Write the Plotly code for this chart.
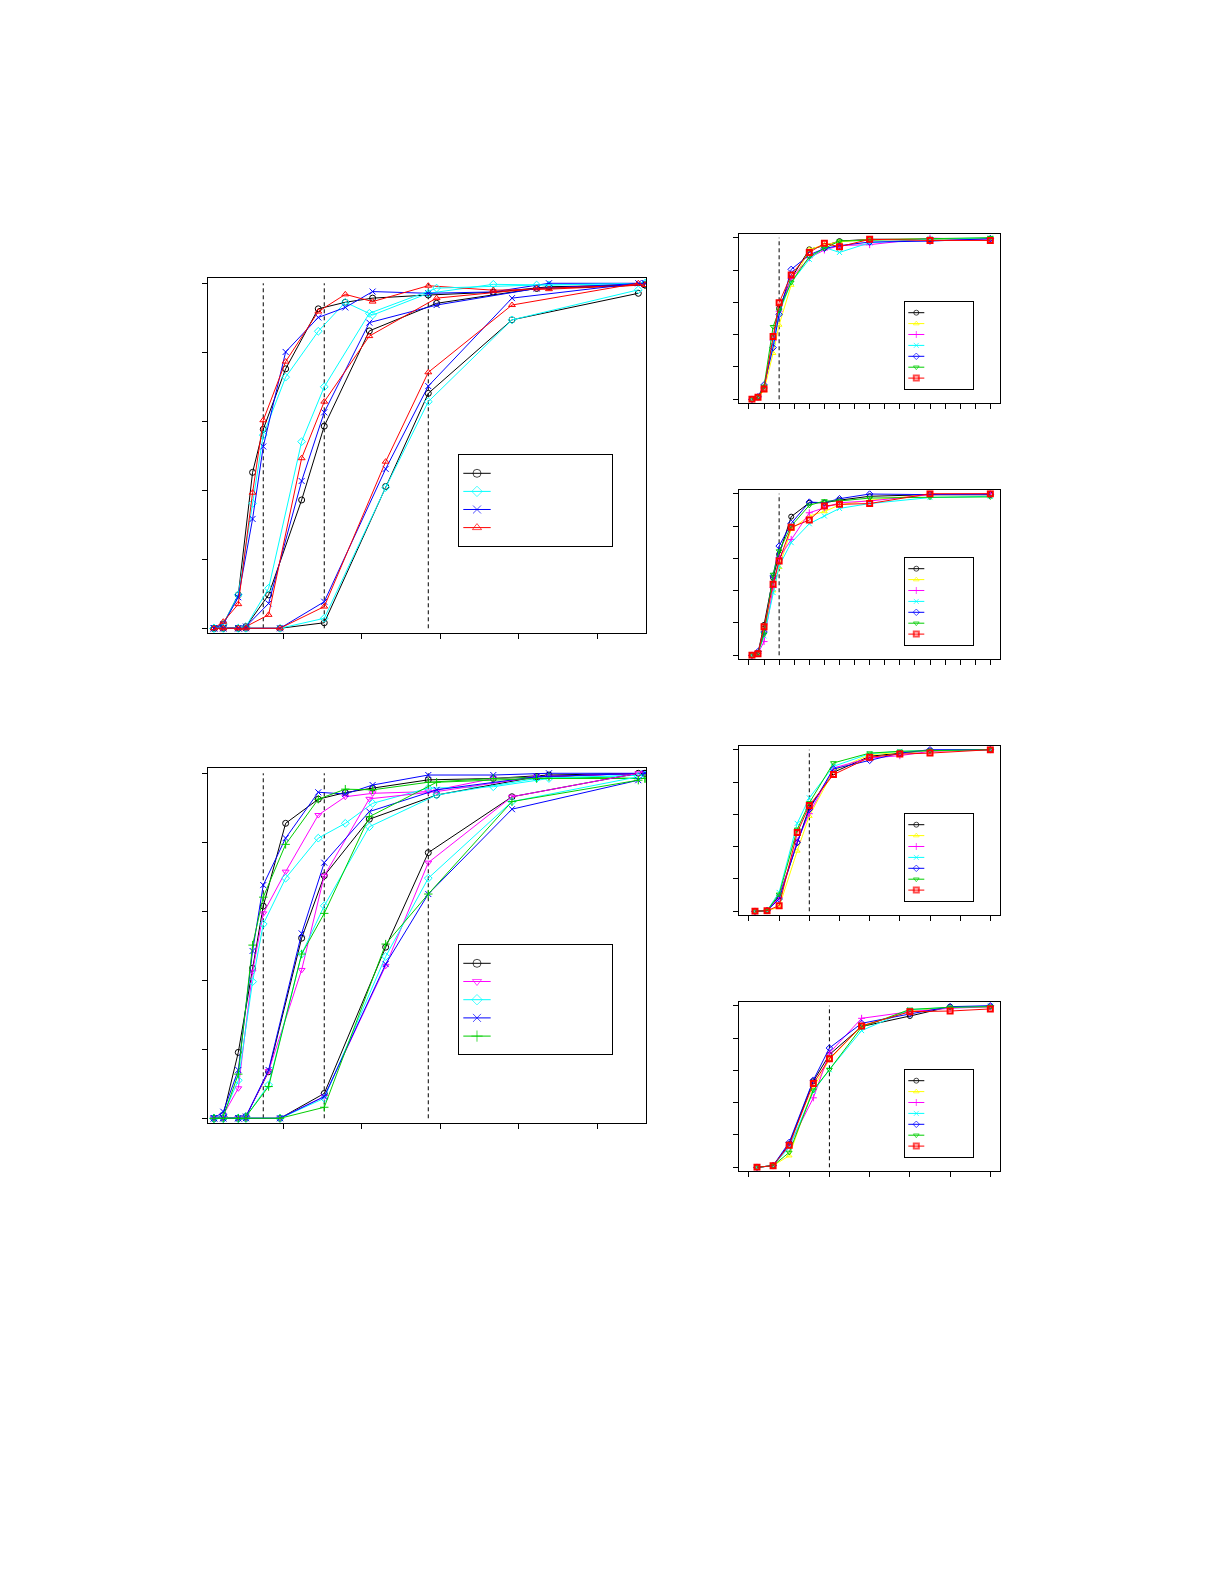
import plotly.graph_objects as go

# page is 1225x1585; the html body has an 8px margin, so the figure is slightly smaller
PAGE_OFF = 8
W, H = 1225 - 2 * PAGE_OFF, 1585 - 2 * PAGE_OFF

# ---------------- data: left panels ----------------
xA = [1.17, 2.36, 4.27, 6.09, 7.45, 10.30, 14.46, 17.90, 21.38, 28.47, 36.75, 43.84, 56.07]
xB = [1.17, 2.36, 4.27, 5.24, 8.13, 12.34, 15.22, 20.96, 29.53, 42.27, 56.07]
xC = [1.17, 2.36, 4.27, 5.24, 9.58, 15.22, 23.04, 28.47, 39.13, 55.22]
left_thresholds = [7.45, 15.22, 28.47]
left_xticks = [10, 20, 30, 40, 50]
y_ticks = [0, 0.2, 0.4, 0.6, 0.8, 1.0]

# top-left panel: series 1..4, each with families A, B, C
tl_A = [
    [0, 0.012, 0.097, 0.452, 0.577, 0.752, 0.926, 0.945, 0.957, 0.966, 0.974, 0.990, 0.995],
    [0, 0.012, 0.097, 0.362, 0.560, 0.728, 0.861, 0.945, 0.908, 0.971, 0.997, 0.995, 1.000],
    [0, 0.012, 0.090, 0.317, 0.527, 0.801, 0.901, 0.930, 0.976, 0.971, 0.975, 1.000, 1.000],
    [0, 0.019, 0.070, 0.393, 0.603, 0.773, 0.918, 0.968, 0.947, 0.993, 0.980, 0.983, 0.995],
]
tl_B = [
    [0, 0, 0, 0.005, 0.097, 0.372, 0.586, 0.862, 0.942, 0.985, 0.995],
    [0, 0, 0, 0.005, 0.116, 0.541, 0.700, 0.913, 0.986, 0.995, 1.000],
    [0, 0, 0, 0.005, 0.072, 0.427, 0.626, 0.886, 0.937, 0.985, 1.000],
    [0, 0, 0, 0.005, 0.039, 0.493, 0.657, 0.847, 0.957, 0.985, 0.995],
]
tl_C = [
    [0, 0, 0, 0, 0, 0.016, 0.411, 0.681, 0.894, 0.971],
    [0, 0, 0, 0, 0, 0.029, 0.408, 0.657, 0.894, 0.981],
    [0, 0, 0, 0, 0, 0.077, 0.462, 0.702, 0.957, 1.000],
    [0, 0, 0, 0, 0, 0.063, 0.483, 0.742, 0.937, 1.000],
]

# bottom-left panel: series 1..5
bl_A = [
    [0, 0.010, 0.191, 0.435, 0.615, 0.855, 0.925, 0.944, 0.957, 0.981, 0.985, 0.995, 1.000],
    [0, 0.010, 0.087, 0.425, 0.594, 0.715, 0.879, 0.932, 0.942, 0.947, 0.985, 0.990, 1.000],
    [0, 0.010, 0.110, 0.396, 0.563, 0.696, 0.812, 0.855, 0.913, 0.957, 0.961, 0.985, 0.995],
    [0, 0.019, 0.140, 0.485, 0.676, 0.812, 0.945, 0.940, 0.966, 0.995, 0.995, 1.000, 1.000],
    [0, 0.005, 0.128, 0.502, 0.641, 0.794, 0.925, 0.954, 0.952, 0.974, 0.985, 0.990, 0.985],
]
bl_B = [
    [0, 0, 0, 0.005, 0.135, 0.522, 0.703, 0.867, 0.937, 0.990, 1.000],
    [0, 0, 0, 0.005, 0.137, 0.430, 0.703, 0.926, 0.947, 0.990, 1.000],
    [0, 0, 0, 0.005, 0.097, 0.476, 0.616, 0.845, 0.937, 0.985, 0.995],
    [0, 0, 0, 0.005, 0.140, 0.536, 0.741, 0.889, 0.952, 0.990, 1.000],
    [0, 0, 0, 0.005, 0.092, 0.476, 0.594, 0.874, 0.974, 0.985, 0.985],
]
bl_C = [
    [0, 0, 0, 0, 0, 0.072, 0.496, 0.770, 0.932, 1.000],
    [0, 0, 0, 0, 0, 0.063, 0.442, 0.741, 0.932, 1.000],
    [0, 0, 0, 0, 0, 0.058, 0.469, 0.696, 0.918, 0.990],
    [0, 0, 0, 0, 0, 0.063, 0.447, 0.650, 0.896, 0.980],
    [0, 0, 0, 0, 0, 0.032, 0.505, 0.650, 0.918, 0.980],
]

# ---------------- data: right panels ----------------
xr = [0.2, 0.6, 1.0, 1.6, 2.0, 2.8, 4.0, 5.0, 6.0, 8.0, 12.0, 16.0]
right_threshold = 2.0
# series order: black, yellow, magenta, cyan, blue, green, red
r1 = [
    [0, 0.015, 0.070, 0.378, 0.563, 0.748, 0.928, 0.951, 0.979, 0.990, 0.990, 0.994],
    [0, 0.010, 0.055, 0.285, 0.460, 0.707, 0.928, 0.955, 0.975, 0.988, 0.992, 0.996],
    [0, 0.015, 0.070, 0.365, 0.545, 0.748, 0.876, 0.924, 0.951, 0.957, 0.998, 0.985],
    [0, 0.015, 0.075, 0.355, 0.535, 0.724, 0.866, 0.940, 0.909, 0.969, 0.992, 0.998],
    [0, 0.015, 0.089, 0.320, 0.526, 0.804, 0.893, 0.934, 0.951, 0.973, 0.979, 0.994],
    [0, 0.015, 0.080, 0.449, 0.550, 0.724, 0.882, 0.934, 0.979, 0.985, 0.994, 1.000],
    [0, 0.012, 0.064, 0.388, 0.598, 0.769, 0.909, 0.965, 0.944, 0.990, 0.983, 0.983],
]
r2 = [
    [0, 0.015, 0.188, 0.480, 0.625, 0.858, 0.944, 0.944, 0.960, 0.984, 0.994, 0.994],
    [0, 0.010, 0.160, 0.400, 0.545, 0.780, 0.862, 0.890, 0.930, 0.960, 0.994, 0.994],
    [0, 0.012, 0.085, 0.419, 0.604, 0.717, 0.882, 0.913, 0.944, 0.955, 0.994, 1.000],
    [0, 0.012, 0.120, 0.388, 0.553, 0.697, 0.814, 0.862, 0.909, 0.939, 0.976, 0.984],
    [0, 0.023, 0.144, 0.491, 0.676, 0.816, 0.948, 0.944, 0.969, 0.998, 0.994, 0.994],
    [0, 0.015, 0.130, 0.500, 0.645, 0.800, 0.928, 0.955, 0.955, 0.973, 0.978, 0.980],
    [0, 0.010, 0.177, 0.439, 0.584, 0.792, 0.837, 0.924, 0.934, 0.939, 1.000, 1.000],
]
r3 = [
    [0, 0.004, 0.092, 0.425, 0.641, 0.860, 0.959, 0.979, 0.994, 1.000],
    [0, 0.004, 0.025, 0.374, 0.589, 0.870, 0.969, 0.983, 0.990, 1.000],
    [0, 0.004, 0.085, 0.435, 0.604, 0.887, 0.948, 0.963, 0.990, 1.000],
    [0, 0.004, 0.117, 0.544, 0.702, 0.897, 0.975, 0.990, 0.994, 1.000],
    [0, 0.004, 0.076, 0.425, 0.630, 0.881, 0.934, 0.979, 1.000, 1.000],
    [0, 0.004, 0.105, 0.507, 0.671, 0.918, 0.979, 0.990, 0.994, 1.000],
    [0, 0.004, 0.035, 0.487, 0.655, 0.846, 0.953, 0.973, 0.979, 1.000],
]
r4 = [
    [0, 0.010, 0.143, 0.533, 0.697, 0.871, 0.936, 0.994, 0.994],
    [0, 0.010, 0.072, 0.492, 0.666, 0.875, 0.967, 0.990, 0.994],
    [0, 0.010, 0.133, 0.430, 0.707, 0.922, 0.963, 0.984, 0.994],
    [0, 0.010, 0.123, 0.471, 0.604, 0.846, 0.975, 0.990, 0.998],
    [0, 0.010, 0.154, 0.539, 0.738, 0.891, 0.949, 0.994, 1.000],
    [0, 0.010, 0.092, 0.477, 0.604, 0.867, 0.977, 0.990, 0.994],
    [0, 0.010, 0.137, 0.518, 0.672, 0.875, 0.963, 0.967, 0.980],
]
right_data = [r1, r2, r3, r4]
right_xmax = [16, 16, 8, 6]

# ---------------- styles ----------------
tl_colors = ["#000000", "#00FFFF", "#0000FF", "#FF0000"]
tl_symbols = ["circle-open", "diamond-open", "x-thin-open", "triangle-up-open"]
bl_colors = ["#000000", "#FF00FF", "#00FFFF", "#0000FF", "#00CD00"]
bl_symbols = ["circle-open", "triangle-down-open", "diamond-open", "x-thin-open", "cross-thin-open"]
r_colors = ["#000000", "#FFFF00", "#FF00FF", "#00FFFF", "#0000FF", "#00CD00", "#FF0000"]
r_symbols = ["circle-open", "triangle-up-open", "cross-thin-open", "x-thin-open",
             "diamond-open", "triangle-down-open", "square-open"]
r_mlw = [1, 1, 1, 1, 1, 1, 2]

fig = go.Figure()
layout = dict(width=W, height=H, margin=dict(l=0, r=0, t=0, b=0),
              paper_bgcolor="white", plot_bgcolor="white", showlegend=False)

def dom_x(a, b):
    return [(a - PAGE_OFF) / W, (b - PAGE_OFF) / W]

def dom_y(top, bottom):
    return [1 - (bottom - PAGE_OFF) / H, 1 - (top - PAGE_OFF) / H]

def add_axes(i, xd, yd, xr_, yr_, xt, yt):
    common = dict(showline=True, mirror=True, linecolor="black", linewidth=1,
                  ticks="outside", ticklen=5, tickcolor="black", tickwidth=1,
                  showticklabels=False, showgrid=False, zeroline=False, fixedrange=True)
    layout["xaxis%d" % i] = dict(domain=xd, range=xr_, anchor="y%d" % i, tickvals=xt, **common)
    layout["yaxis%d" % i] = dict(domain=yd, range=yr_, anchor="x%d" % i, tickvals=yt, **common)

def add_legend_axes(i, xd, yd, wpx, hpx):
    common = dict(showline=True, mirror=True, linecolor="black", linewidth=1,
                  ticks="", showticklabels=False, showgrid=False, zeroline=False, fixedrange=True)
    layout["xaxis%d" % i] = dict(domain=xd, range=[0, wpx], anchor="y%d" % i, **common)
    layout["yaxis%d" % i] = dict(domain=yd, range=[hpx, 0], anchor="x%d" % i, **common)

def ax(i):
    return ("x" if i == 1 else "x%d" % i), ("y" if i == 1 else "y%d" % i)

def line_trace(i, x, y, color, symbol, msize, mlw=1):
    xa, ya = ax(i)
    fig.add_trace(go.Scatter(x=x, y=y, mode="lines+markers", xaxis=xa, yaxis=ya,
                             line=dict(color=color, width=1),
                             marker=dict(symbol=symbol, size=msize, color=color,
                                         line=dict(color=color, width=mlw)),
                             hoverinfo="skip"))

def vline(i, xv):
    xa, ya = ax(i)
    fig.add_trace(go.Scatter(x=[xv, xv], y=[0, 1], mode="lines", xaxis=xa, yaxis=ya,
                             line=dict(color="black", width=1, dash="4px,3px"), hoverinfo="skip"))

def legend_items(i, colors, symbols, mlws, x0, x1, row0, dy, msize):
    xa, ya = ax(i)
    for k, (c, s) in enumerate(zip(colors, symbols)):
        yy = row0 + dy * k
        fig.add_trace(go.Scatter(x=[x0, (x0 + x1) / 2, x1], y=[yy, yy, yy], mode="lines+markers",
                                 xaxis=xa, yaxis=ya, line=dict(color=c, width=1),
                                 marker=dict(symbol=s, size=[0, msize, 0], color=c,
                                             line=dict(color=c, width=mlws[k])),
                                 hoverinfo="skip"))

# ---------- left panels ----------
LX0, LX1 = 208.3, 646.0
lxr = [0.45, 56.2]
lyr = [-0.015, 1.015]
add_axes(1, dom_x(LX0, LX1), dom_y(283.3 - 0.015 * 345, 628.3 + 0.015 * 345), lxr, lyr, left_xticks, y_ticks)
add_axes(2, dom_x(LX0, LX1), dom_y(773.3 - 0.015 * 345, 1118.3 + 0.015 * 345), lxr, lyr, left_xticks, y_ticks)

for t in left_thresholds:
    vline(1, t)
    vline(2, t)
for fam_x, fam in [(xA, tl_A), (xB, tl_B), (xC, tl_C)]:
    for k, ys in enumerate(fam):
        line_trace(1, fam_x, ys, tl_colors[k], tl_symbols[k], 6)
for fam_x, fam in [(xA, bl_A), (xB, bl_B), (xC, bl_C)]:
    for k, ys in enumerate(fam):
        line_trace(2, fam_x, ys, bl_colors[k], bl_symbols[k], 6)

# ---------- right panels ----------
RX0, RX1 = 739.3, 1000.0
for p in range(4):
    i = 3 + p
    one = 237.7 + 256 * p
    zero = 399.3 + 256 * p
    span = zero - one
    xm = right_xmax[p]
    add_axes(i, dom_x(RX0, RX1), dom_y(one - 0.021 * span, zero + 0.021 * span),
             [-0.04 * xm, 1.04 * xm], [-0.021, 1.021], list(range(0, xm + 1)), y_ticks)
    vline(i, right_threshold)
    for k, ys in enumerate(right_data[p]):
        line_trace(i, xr[:len(ys)], ys, r_colors[k], r_symbols[k], 5, r_mlw[k])

# ---------- legends (boxes with samples, no text) ----------
add_legend_axes(7, dom_x(459.3, 612.3), dom_y(455.3, 546.0), 153.0, 90.7)
legend_items(7, tl_colors, tl_symbols, [1] * 4, 4.0, 31.4, 18.0, 18.1, 8)
add_legend_axes(8, dom_x(459.3, 612.3), dom_y(945.3, 1054.0), 153.0, 108.7)
legend_items(8, bl_colors, bl_symbols, [1] * 5, 4.0, 31.4, 18.0, 18.2, 8)
for p in range(4):
    i = 9 + p
    top = 302.3 + 256 * p
    add_legend_axes(i, dom_x(905.3, 972.5), dom_y(top, top + 87.0), 67.2, 87.0)
    legend_items(i, r_colors, r_symbols, r_mlw, 3.0, 19.0, 10.4, 10.9, 5)

fig.update_layout(**layout)
fig.write_html("out.html")
